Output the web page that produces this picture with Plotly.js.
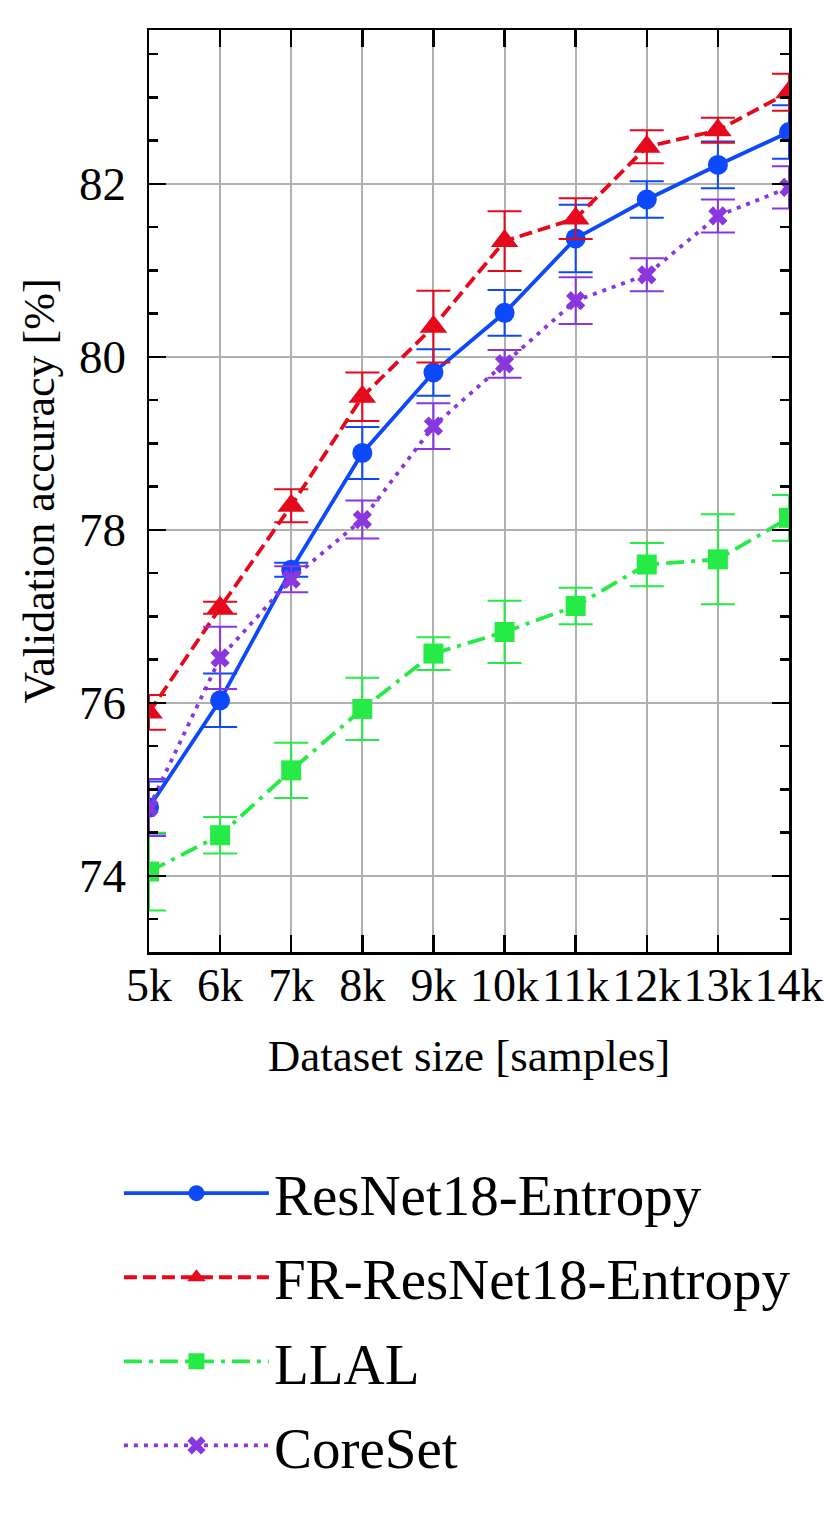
<!DOCTYPE html>
<html>
<head>
<meta charset="utf-8">
<script src="https://cdn.plot.ly/plotly-3.0.1.min.js"></script>
<style>html,body{margin:0;padding:0;background:#fff;}#chart{width:830px;height:1536px;}</style>
</head>
<body>
<div id="chart"></div>
<script>
// Dataset size (thousands of samples)
const datasetSize = [5, 6, 7, 8, 9, 10, 11, 12, 13, 14];
const xTickLabels = ["5k", "6k", "7k", "8k", "9k", "10k", "11k", "12k", "13k", "14k"];
const yTickValues = [74, 76, 78, 80, 82];

const seriesNames = ["ResNet18-Entropy", "FR-ResNet18-Entropy", "LLAL", "CoreSet"];

// Validation accuracy [%] and error (half-width)
const resnetAcc = [74.79, 76.03, 77.54, 78.89, 79.82, 80.51, 81.37, 81.82, 82.22, 82.60];
const resnetErr = [0.30, 0.31, 0.08, 0.30, 0.27, 0.265, 0.39, 0.21, 0.27, 0.31];

const frResnetAcc = [75.89, 77.10, 78.28, 79.54, 80.35, 81.34, 81.60, 82.43, 82.62, 83.06];
const frResnetErr = [0.20, 0.07, 0.19, 0.28, 0.415, 0.345, 0.235, 0.19, 0.145, 0.215];

const llalAcc = [74.05, 74.47, 75.22, 75.93, 76.57, 76.82, 77.12, 77.60, 77.66, 78.14];
const llalErr = [0.45, 0.21, 0.32, 0.36, 0.19, 0.36, 0.21, 0.25, 0.52, 0.265];

const coresetAcc = [74.79, 76.52, 77.43, 78.12, 79.20, 79.92, 80.65, 80.95, 81.63, 81.96];
const coresetErr = [0.33, 0.36, 0.15, 0.22, 0.265, 0.16, 0.27, 0.19, 0.19, 0.245];

const colors = ["#0d49fb", "#e6091c", "#26eb47", "#8936df"];
const dashes = ["solid", "13px,6px", "18px,7px,4px,7px", "4px,6px"];
const symbols = ["circle", "triangle-up", "square", "x"];
const markerSizes = [20, 24, 20, 17];

const accs = [resnetAcc, frResnetAcc, llalAcc, coresetAcc];
const errs = [resnetErr, frResnetErr, llalErr, coresetErr];

const traces = seriesNames.map((name, i) => ({
  type: "scatter",
  mode: "lines+markers",
  name: name,
  legendgroup: "g" + i,
  x: datasetSize,
  y: accs[i],
  line: {color: colors[i], width: 3.8, dash: dashes[i]},
  marker: {color: colors[i], symbol: symbols[i], size: markerSizes[i], line: {width: 0}},
  error_y: {type: "data", array: errs[i], visible: true, color: colors[i], thickness: 2, width: 17},
  cliponaxis: true
}));

const fontFamily = "'Liberation Serif', 'DejaVu Serif', serif";

const layout = {
  width: 830,
  height: 1536,
  margin: {l: 149, r: 41, t: 30, b: 584},
  paper_bgcolor: "#fff",
  plot_bgcolor: "#fff",
  font: {family: fontFamily, color: "#000", size: 44},
  showlegend: true,
  legend: {
    x: -0.047, y: -0.2143, xanchor: "left", yanchor: "top",
    font: {family: fontFamily, size: 57, color: "#000"},
    itemwidth: 145,
    tracegroupgap: 7,
    bgcolor: "rgba(0,0,0,0)"
  },
  xaxis: {
    range: [5, 14],
    tickvals: datasetSize,
    ticktext: xTickLabels,
    tickangle: 0,
    ticks: "inside", ticklen: 17, tickwidth: 2.5, tickcolor: "#000",
    showline: true, linecolor: "#000", linewidth: 2.5, mirror: "ticks",
    showgrid: true, gridcolor: "#b0b0b0", gridwidth: 2,
    zeroline: false,
    tickfont: {family: fontFamily, size: 46, color: "#000"},
    ticklabelstandoff: -9,
    title: {text: "Dataset size [samples]", font: {family: fontFamily, size: 45, color: "#000"}, standoff: 30}
  },
  yaxis: {
    range: [73.12, 83.78],
    tickvals: yTickValues,
    ticks: "inside", ticklen: 17, tickwidth: 2.5, tickcolor: "#000",
    minor: {dtick: 0.5, ticks: "inside", ticklen: 9, tickwidth: 2.5, tickcolor: "#000", showgrid: false},
    showline: true, linecolor: "#000", linewidth: 2.5, mirror: "ticks",
    showgrid: true, gridcolor: "#b0b0b0", gridwidth: 2,
    zeroline: false,
    tickfont: {family: fontFamily, size: 47, color: "#000"},
    ticklabelstandoff: 11,
    title: {text: "Validation accuracy [%]", font: {family: fontFamily, size: 44, color: "#000"}, standoff: 11}
  }
};

Plotly.newPlot("chart", traces, layout, {displayModeBar: false, staticPlot: true});
</script>
</body>
</html>
